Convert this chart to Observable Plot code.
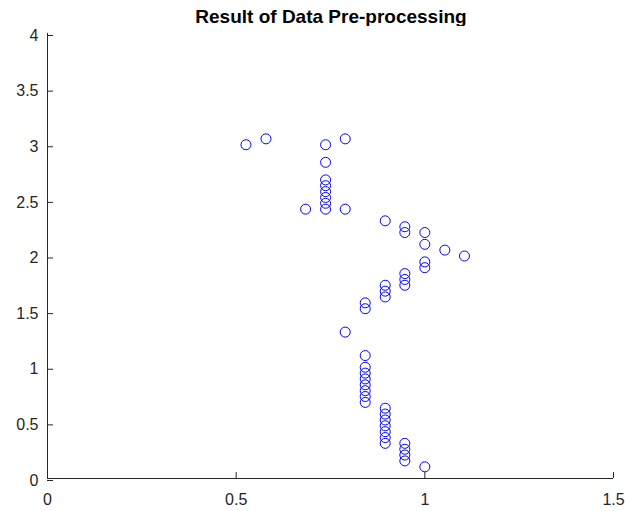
<!DOCTYPE html>
<html>
<head>
<meta charset="utf-8">
<script src="https://cdn.jsdelivr.net/npm/d3@7"></script>
<script src="https://cdn.jsdelivr.net/npm/@observablehq/plot@0.6"></script>
<style>
  html, body { margin: 0; padding: 0; background: #fff; }
  #wrap { width: 625px; height: 511px; position: relative; font-family: "Liberation Sans", Arial, sans-serif; }
  #title { height: 26px; width: 625px; position: absolute; left: 0; top: 0; }
  #title span { position: absolute; left: 331px; top: 7px; transform: translateX(-50%); font-weight: bold; font-size: 19px; line-height: 19px; color: #000; white-space: nowrap; }
  #chart { position: absolute; left: 0; top: 26px; }
  #chart svg { display: block; }
</style>
</head>
<body>
<div id="wrap">
  <div id="title"><span id="t"></span></div>
  <div id="chart"></div>
</div>
<script>
const titleText = "Result of Data Pre-processing";
const xTicks = [0, 0.5, 1, 1.5];
const yTicks = [0, 0.5, 1, 1.5, 2, 2.5, 3, 3.5, 4];

const xVals = [
  0.526, 0.579, 0.737, 0.789, 0.737,
  0.737, 0.737, 0.737, 0.737, 0.737, 0.737,
  0.684, 0.789,
  0.895, 0.947, 0.947, 1.0, 1.0, 1.053, 1.105,
  1.0, 1.0, 0.947, 0.947, 0.947,
  0.895, 0.895, 0.895, 0.842, 0.842,
  0.789,
  0.842, 0.842, 0.842, 0.842, 0.842, 0.842, 0.842, 0.842,
  0.895, 0.895, 0.895, 0.895, 0.895, 0.895, 0.895,
  0.947, 0.947, 0.947, 0.947,
  1.0
];
const yVals = [
  3.0, 3.053, 3.0, 3.053, 2.842,
  2.684, 2.632, 2.579, 2.526, 2.474, 2.421,
  2.421, 2.421,
  2.316, 2.263, 2.211, 2.211, 2.105, 2.053, 2.0,
  1.947, 1.895, 1.842, 1.789, 1.737,
  1.737, 1.684, 1.632, 1.579, 1.526,
  1.316,
  1.105, 1.0, 0.947, 0.895, 0.842, 0.789, 0.737, 0.684,
  0.632, 0.579, 0.526, 0.474, 0.421, 0.368, 0.316,
  0.316, 0.263, 0.211, 0.158,
  0.105
];

document.getElementById("t").textContent = titleText;

const data = xVals.map((x, i) => ({x, y: yVals[i]}));
const axisColor = "#262626";

const chart = Plot.plot({
  width: 625,
  height: 485,
  marginLeft: 47,
  marginRight: 12,
  marginTop: 7,
  marginBottom: 33,
  style: {fontFamily: "Liberation Sans, Arial, sans-serif", fontSize: "16px", color: axisColor, background: "#fff"},
  x: {domain: [0, 1.5], label: null},
  y: {domain: [0, 4], label: null},
  marks: [
    Plot.axisX({ticks: xTicks, tickFormat: d => String(d), tickSize: -6, tickPadding: 21, stroke: axisColor, fill: axisColor, fontSize: 16, label: null}),
    Plot.axisY({ticks: yTicks, tickFormat: d => String(d), tickSize: -6, tickPadding: 15, dy: 2, stroke: axisColor, fill: axisColor, fontSize: 16, label: null}),
    Plot.ruleX([0], {stroke: axisColor, strokeWidth: 1}),
    Plot.ruleY([0], {stroke: axisColor, strokeWidth: 1}),
    Plot.dot(data, {x: "x", y: "y", r: 5, stroke: "#0000ff", fill: "none", strokeWidth: 1})
  ]
});
document.getElementById("chart").appendChild(chart);
</script>
</body>
</html>
